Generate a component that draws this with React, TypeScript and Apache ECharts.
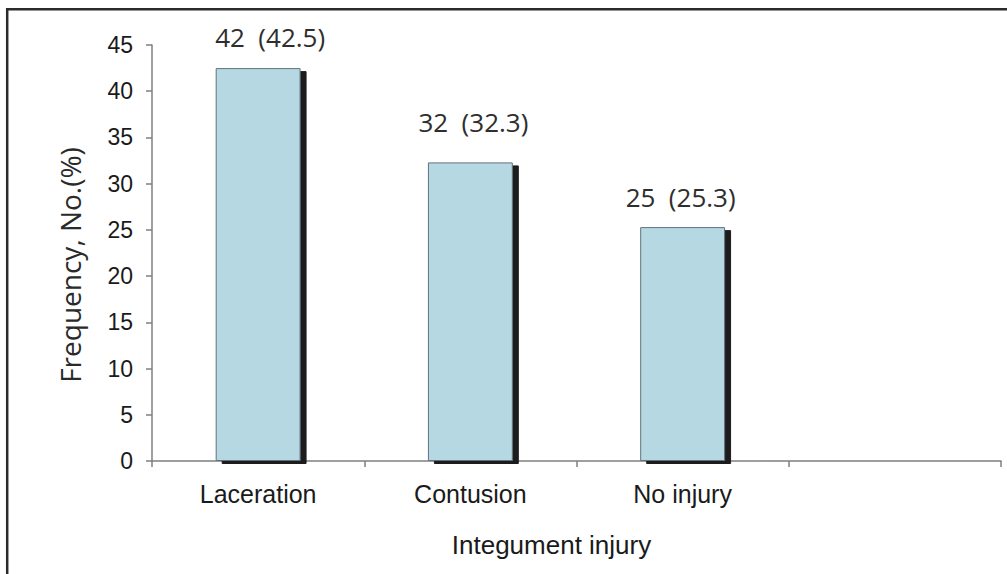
import React, { useEffect, useRef } from "react";
import * as echarts from "echarts";

const categories = ["Laceration", "Contusion", "No injury", ""];
const counts = [42, 32, 25];
const percents = [42.5, 32.3, 25.3];
const labelOffsets = [[12, 0], [3, -9], [-2, 1]];
const yTicks = { min: 0, max: 45, interval: 5 };

export default function App() {
  const ref = useRef<HTMLDivElement>(null);
  useEffect(() => {
    if (!ref.current) return;
    const chart = echarts.init(ref.current, null, { renderer: "svg" });
    const data = categories.map((c, i) =>
      i < percents.length
        ? {
            value: percents[i],
            label: { offset: labelOffsets[i] },
          }
        : null
    );
    chart.setOption({
      animation: false,
      backgroundColor: "#ffffff",
      grid: { left: 152, right: 6, top: 45, bottom: 113, containLabel: false },
      graphic: [
        {
          type: "rect",
          shape: { x: 7.2, y: 9.3, width: 1200, height: 800 },
          style: { fill: "none", stroke: "#2b2b2b", lineWidth: 2.5 },
          silent: true,
          z: 100,
        },
      ],
      xAxis: {
        type: "category",
        data: categories,
        boundaryGap: true,
        name: "Integument injury",
        nameLocation: "middle",
        nameGap: 71,
        nameTextStyle: {
          fontFamily: "Liberation Sans, Arial, sans-serif",
          fontSize: 26,
          color: "#1a1a1a",
          padding: [0, 50, 0, 0],
        },
        axisLine: { lineStyle: { color: "#7f7f7f", width: 1.5 } },
        axisTick: { show: true, length: 6, alignWithLabel: false, lineStyle: { color: "#7f7f7f", width: 1.5 } },
        axisLabel: {
          fontFamily: "Liberation Sans, Arial, sans-serif",
          fontSize: 25,
          color: "#1a1a1a",
          margin: 20,
        },
        splitLine: { show: false },
      },
      yAxis: {
        type: "value",
        min: yTicks.min,
        max: yTicks.max,
        interval: yTicks.interval,
        name: "Frequency, No.(%)",
        nameLocation: "middle",
        nameGap: 68,
        nameRotate: 90,
        nameTextStyle: {
          fontFamily: "Open Sans, sans-serif",
          fontSize: 28,
          color: "#2a2a2a",
          padding: [0, 24, 0, 0],
        },
        axisLine: { show: true, lineStyle: { color: "#7f7f7f", width: 1.5 } },
        axisTick: { show: true, length: 6, lineStyle: { color: "#7f7f7f", width: 1.5 } },
        axisLabel: {
          fontFamily: "Liberation Sans, Arial, sans-serif",
          fontSize: 23,
          color: "#1a1a1a",
          margin: 19,
        },
        splitLine: { show: false },
      },
      series: [
        {
          type: "bar",
          data,
          barWidth: "40%",
          itemStyle: {
            color: "#b5d8e3",
            borderColor: "#62727c",
            borderWidth: 1,
            shadowColor: "#1a1a1a",
            shadowBlur: 0,
            shadowOffsetX: 6,
            shadowOffsetY: 3,
          },
          label: {
            show: true,
            position: "top",
            distance: 18,
            fontFamily: "Open Sans, sans-serif",
            fontSize: 26,
            color: "#2e2e2e",
            formatter: (p: any) => `${counts[p.dataIndex]}  (${percents[p.dataIndex]})`,
          },
        },
      ],
    });
    return () => chart.dispose();
  }, []);
  return (
    <div
      ref={ref}
      style={{ position: "fixed", left: 0, top: 0, width: 1007, height: 574, background: "#fff" }}
    />
  );
}
